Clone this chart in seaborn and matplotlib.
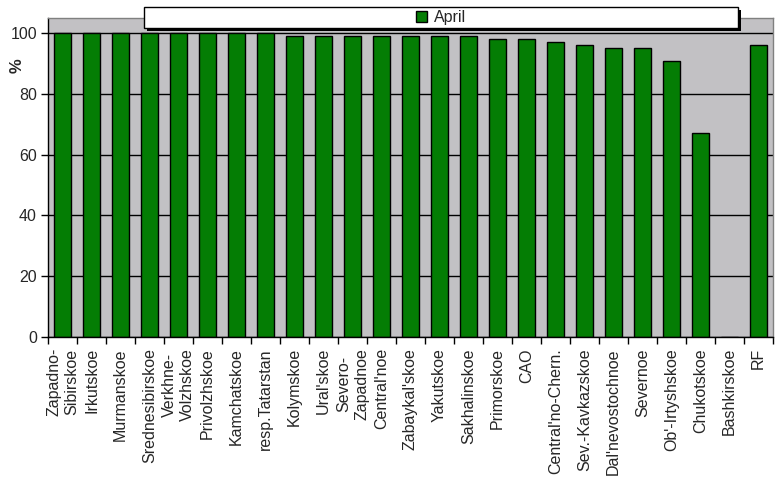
import matplotlib
matplotlib.use("Agg")
import matplotlib.pyplot as plt
from matplotlib.patches import Rectangle, Patch
from matplotlib.ticker import FixedLocator
import numpy as np
import seaborn as sns

regions = [
    "Zapadno-\nSibirskoe", "Irkutskoe", "Murmanskoe", "Srednesibirskoe",
    "Verkhne-\nVolzhskoe", "Privolzhskoe", "Kamchatskoe", "resp.Tatarstan",
    "Kolymskoe", "Ural'skoe", "Severo-\nZapadnoe", "Central'noe",
    "Zabaykal'skoe", "Yakutskoe", "Sakhalinskoe", "Primorskoe", "CAO",
    "Central'no-Chern.", "Sev.-Kavkazskoe", "Dal'nevostochnoe", "Severnoe",
    "Ob'-Irtyshskoe", "Chukotskoe", "Bashkirskoe", "RF",
]
april = [100, 100, 100, 100, 100, 100, 100, 100,
         99, 99, 99, 99, 99, 99, 99, 98, 98, 97, 96, 95, 95, 91, 67, 0, 96]
yticks = [0, 20, 40, 60, 80, 100]

sns.set_style("white")
plt.rcParams["font.family"] = ["Liberation Sans", "DejaVu Sans"]

W, H = 777, 479
fig = plt.figure(figsize=(W / 100, H / 100), dpi=100)
ax = fig.add_axes([48 / W, (H - 337) / H, 725 / W, 319 / H])
ax.set_facecolor("#C2C1C4")
ax.set_axisbelow(True)

sns.barplot(x=regions, y=april, order=regions, color="#047D04", saturation=1,
            edgecolor="black", linewidth=1, width=0.62, ax=ax)

ax.set_xlim(-0.5, len(regions) - 0.5)
ax.set_ylim(0, 105)
ax.set_yticks(yticks)
ax.yaxis.grid(True, color="black", linewidth=1)
ax.xaxis.grid(False)

ax.tick_params(axis="y", labelsize=11.5, length=5, width=1, color="black",
               left=True, pad=3)
ax.tick_params(axis="x", which="major", length=0, pad=8)
ax.xaxis.set_minor_locator(FixedLocator(np.arange(-0.5, len(regions), 1)))
ax.tick_params(axis="x", which="minor", bottom=True, length=5, width=1,
               color="black")
ax.set_xticks(range(len(regions)))
ax.set_xticklabels(regions, rotation=90, fontsize=11.5, ha="center",
                   va="top", linespacing=1.25, multialignment="center")
ax.set_xlabel("")

ax.set_ylabel("%", rotation=90, fontsize=12, fontweight="bold")
ax.yaxis.set_label_coords(-0.032, 0.85)

for side in ["left", "bottom"]:
    ax.spines[side].set_color("black")
    ax.spines[side].set_linewidth(1)
for side in ["top", "right"]:
    ax.spines[side].set_color("#808080")
    ax.spines[side].set_linewidth(1)

# legend box with shadow at the top
x0, y0, x1, y1 = 144, 7, 738, 28
fig.patches.append(Rectangle(((x0 + 3) / W, 1 - (y1 + 3) / H),
                             (x1 - x0) / W, (y1 - y0) / H,
                             transform=fig.transFigure, facecolor="black",
                             edgecolor="none", zorder=5))
fig.patches.append(Rectangle((x0 / W, 1 - y1 / H), (x1 - x0) / W,
                             (y1 - y0) / H, transform=fig.transFigure,
                             facecolor="white", edgecolor="black",
                             linewidth=1, zorder=6))
handle = Patch(facecolor="#047D04", edgecolor="black", linewidth=1)
leg = fig.legend([handle], ["April"], loc="center",
                 bbox_to_anchor=((x0 + x1) / 2 / W, 1 - (y0 + y1) / 2 / H),
                 frameon=False, fontsize=11.5, handlelength=0.7,
                 handleheight=0.7, handletextpad=0.4)
leg.set_zorder(7)

fig.savefig("out.png", dpi=100)
